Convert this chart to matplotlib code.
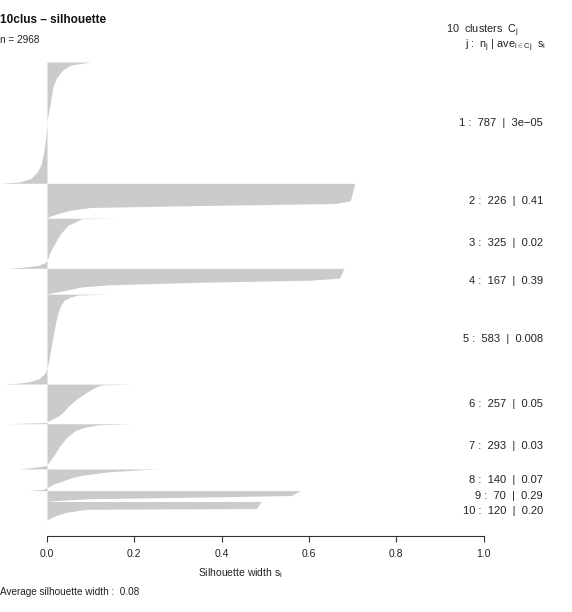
import numpy as np
import matplotlib
matplotlib.use("Agg")
import matplotlib.pyplot as plt
from matplotlib import transforms

plt.rcParams["font.family"] = ["Liberation Sans", "DejaVu Sans"]
plt.rcParams["mathtext.fontset"] = "custom"
plt.rcParams["mathtext.rm"] = "Liberation Sans"
plt.rcParams["mathtext.it"] = "Liberation Sans"
plt.rcParams["mathtext.bf"] = "Liberation Sans:bold"

# cluster summary
cluster_ids = [1, 2, 3, 4, 5, 6, 7, 8, 9, 10]
cluster_sizes = [787, 226, 325, 167, 583, 257, 293, 140, 70, 120]
cluster_avg = ["3e\u221205", "0.41", "0.02", "0.39", "0.008", "0.05", "0.03", "0.07", "0.29", "0.20"]
n_total = 2968
avg_width = "0.08"

# silhouette profile per cluster
# pos: place down the cluster (0 = first bar, 1 = last bar), sil: s_i there
c1_pos = [0, 0.025, 0.066, 0.13, 0.21, 0.355, 0.44, 0.5, 0.63, 0.77, 0.85, 0.91, 0.96, 0.99, 1.0]
c1_sil = [0.10, 0.055, 0.036, 0.022, 0.013, 0.007, 0.002, 0.0, -0.003, -0.009, -0.014, -0.023, -0.037, -0.064, -0.11]
c2_pos = [0, 0.5, 0.58, 0.637, 0.694, 0.77, 0.86, 0.94, 1.0]
c2_sil = [0.705, 0.695, 0.66, 0.35, 0.10, 0.055, 0.027, 0.008, 0.0]
c3_pos = [0, 0.01, 0.07, 0.14, 0.31, 0.47, 0.64, 0.78, 0.88, 0.94, 0.975, 1.0]
c3_sil = [0.165, 0.08, 0.066, 0.048, 0.031, 0.02, 0.009, 0.003, -0.003, -0.02, -0.05, -0.09]
c4_pos = [0, 0.38, 0.46, 0.54, 0.64, 0.72, 0.85, 0.96, 1.0]
c4_sil = [0.68, 0.67, 0.60, 0.35, 0.14, 0.08, 0.044, 0.01, 0.0]
c5_pos = [0, 0.01, 0.03, 0.067, 0.14, 0.25, 0.36, 0.51, 0.66, 0.77, 0.82, 0.88, 0.94, 0.97, 0.99, 1.0]
c5_sil = [0.142, 0.07, 0.055, 0.039, 0.030, 0.023, 0.018, 0.012, 0.007, 0.003, 0.0, -0.005, -0.018, -0.037, -0.064, -0.10]
c6_pos = [0, 0.02, 0.05, 0.11, 0.23, 0.4, 0.57, 0.73, 0.82, 0.88, 0.93, 0.97, 1.0]
c6_sil = [0.20, 0.125, 0.118, 0.105, 0.088, 0.065, 0.048, 0.035, 0.024, 0.012, 0.004, 0.0, -0.09]
c7_pos = [0, 0.02, 0.08, 0.15, 0.3, 0.51, 0.7, 0.84, 0.92, 0.96, 1.0]
c7_sil = [0.20, 0.12, 0.085, 0.065, 0.045, 0.028, 0.016, 0.005, 0.0, -0.025, -0.065]
c8_pos = [0, 0.03, 0.13, 0.29, 0.37, 0.53, 0.69, 0.85, 0.95, 1.0]
c8_sil = [0.257, 0.22, 0.142, 0.08, 0.062, 0.039, 0.016, 0.002, -0.01, -0.046]
c9_pos = [0, 0.45, 0.6, 0.75, 0.9, 1.0]
c9_sil = [0.58, 0.56, 0.35, 0.10, 0.03, 0.0]
c10_pos = [0, 0.38, 0.42, 0.59, 0.76, 0.9, 1.0]
c10_sil = [0.49, 0.48, 0.09, 0.043, 0.02, 0.008, 0.0]

profiles = [(c1_pos, c1_sil), (c2_pos, c2_sil), (c3_pos, c3_sil), (c4_pos, c4_sil),
            (c5_pos, c5_sil), (c6_pos, c6_sil), (c7_pos, c7_sil), (c8_pos, c8_sil),
            (c9_pos, c9_sil), (c10_pos, c10_sil)]

W, H = 572, 612
fig = plt.figure(figsize=(W / 100, H / 100), dpi=100)

# layout in pixels
x0_px, ppu = 47.0, 436.6
xmin, xmax = -0.11, 1.04
top_px, bars_bottom_px, axis_px = 62.0, 520.0, 536.0

gap = 0.5
total = sum(cluster_sizes) + gap * (len(cluster_sizes) - 1)
ppo = (bars_bottom_px - top_px) / total
ybottom = total + (axis_px - bars_bottom_px) / ppo

left = (x0_px + xmin * ppu) / W
width = (xmax - xmin) * ppu / W
ax = fig.add_axes([left, 1 - axis_px / H, width, (axis_px - top_px) / H])
ax.set_xlim(xmin, xmax)
ax.set_ylim(ybottom, 0)

bar_col = "#cbcbcb"
start = 0.0
centers = []
for (pos, sil), n in zip(profiles, cluster_sizes):
    y = start + np.array(pos) * n
    ax.fill_betweenx(y, 0, sil, color=bar_col, linewidth=0)
    centers.append(start + n / 2)
    start += n + gap

for s in ["left", "right", "top"]:
    ax.spines[s].set_visible(False)
ax.spines["bottom"].set_bounds(0, 1)
ax.spines["bottom"].set_linewidth(0.8)
ax.spines["bottom"].set_color("#333333")
ax.set_yticks([])
ax.set_xticks([0, 0.2, 0.4, 0.6, 0.8, 1.0])
ax.set_xticklabels(["0.0", "0.2", "0.4", "0.6", "0.8", "1.0"])
ax.tick_params(axis="x", length=4.3, width=0.8, color="#333333", pad=5,
               labelsize=7.5, labelcolor="#222222")

# cluster labels on the right
tr = transforms.blended_transform_factory(fig.transFigure, ax.transData)
for j, n, a, yc in zip(cluster_ids, cluster_sizes, cluster_avg, centers):
    ax.text(543 / W, yc, f"{j} :  {n}  |  {a}", transform=tr, ha="right", va="center",
            fontsize=8, color="#222222")

fig.text(519 / W, 1 - 31 / H, r"10  clusters  $C_j$", ha="right", va="center",
         fontsize=7.8, color="#222222")
fig.text(546 / W, 1 - 46 / H, r"j :  $n_j$ | ave$_{i\in Cj}$  $s_i$", ha="right", va="center",
         fontsize=7.8, color="#222222")

fig.text(0, 1 - 20 / H, "10clus \u2013 silhouette", ha="left", va="center",
         fontsize=8.5, fontweight="bold", color="#111111")
fig.text(0, 1 - 40 / H, f"n = {n_total}", ha="left", va="center", fontsize=7.2, color="#222222")

fig.text(240 / W, 1 - 573 / H, r"Silhouette width $s_i$", ha="center", va="center",
         fontsize=7.5, color="#222222")
fig.text(0, 1 - 592 / H, f"Average silhouette width :  {avg_width}", ha="left", va="center",
         fontsize=7.2, color="#222222")

fig.savefig("out.png", dpi=100)
